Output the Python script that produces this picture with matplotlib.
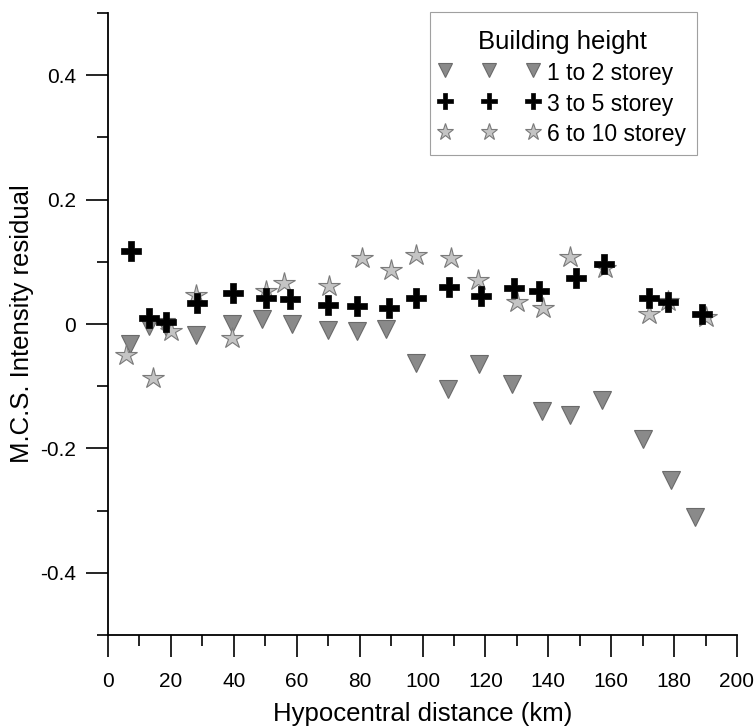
import numpy as np
import matplotlib
matplotlib.use("Agg")
import matplotlib.pyplot as plt
from matplotlib.path import Path
from matplotlib.patches import Rectangle
from matplotlib.transforms import IdentityTransform
from matplotlib.ticker import MultipleLocator, FixedLocator

plt.rcParams['font.family'] = ['Liberation Sans', 'DejaVu Sans']

# ---- data ----
dist_low = [7.0, 13.0, 18.5, 28.0, 39.5, 49.0, 58.6, 70.0, 79.3, 88.5, 97.8, 108.0,
            118.0, 128.3, 138.0, 147.0, 157.0, 170.0, 179.0, 186.6]
res_low = [-0.032, -0.003, -0.005, -0.018, 0.0, 0.008, 0.0, -0.010, -0.011, -0.008,
           -0.063, -0.105, -0.065, -0.096, -0.140, -0.146, -0.122, -0.185, -0.250, -0.310]

dist_mid = [7.3, 13.0, 18.5, 28.3, 39.8, 50.3, 58.0, 70.0, 79.3, 89.2, 97.8, 108.3,
            118.5, 129.0, 137.0, 148.7, 157.6, 172.0, 178.0, 188.8]
res_mid = [0.117, 0.010, 0.003, 0.034, 0.050, 0.042, 0.040, 0.030, 0.029, 0.026,
           0.042, 0.059, 0.045, 0.058, 0.053, 0.074, 0.096, 0.042, 0.036, 0.016]

dist_high = [5.7, 14.3, 20.0, 28.0, 39.5, 50.3, 56.0, 70.4, 80.9, 90.0, 98.0, 109.2,
             117.5, 130.0, 138.2, 146.8, 158.0, 172.0, 178.0, 190.0]
res_high = [-0.050, -0.087, -0.011, 0.047, -0.022, 0.053, 0.066, 0.061, 0.106, 0.087,
            0.111, 0.106, 0.071, 0.036, 0.026, 0.108, 0.090, 0.016, 0.037, 0.011]

labels = ["1 to 2 storey", "3 to 5 storey", "6 to 10 storey"]
ytick_vals = [-0.4, -0.2, 0, 0.2, 0.4]
ytick_labels = ['-0.4', '-0.2', '0', '0.2', '0.4']

# thick plus marker
t = 0.14
plus_verts = [(-t, -0.5), (t, -0.5), (t, -t), (0.5, -t), (0.5, t), (t, t), (t, 0.5),
              (-t, 0.5), (-t, t), (-0.5, t), (-0.5, -t), (-t, -t), (-t, -0.5)]
plus_marker = Path(plus_verts, closed=True)

W, H = 756, 728
fig = plt.figure(figsize=(W/100, H/100), dpi=100)
ax = fig.add_axes([108/W, 1-635/H, (737-108)/W, (635-13)/H])

ax.plot(dist_low, res_low, linestyle='none', marker='v', markersize=12.5,
        markerfacecolor='#8a8a8a', markeredgecolor='#6a6a6a', markeredgewidth=0.8,
        label=labels[0], zorder=3)
ax.plot(dist_mid, res_mid, linestyle='none', marker=plus_marker, markersize=14,
        markerfacecolor='black', markeredgecolor='black', markeredgewidth=0.5,
        label=labels[1], zorder=4)
ax.plot(dist_high, res_high, linestyle='none', marker='*', markersize=16,
        markerfacecolor='#c4c4c4', markeredgecolor='#7a7a7a', markeredgewidth=0.8,
        label=labels[2], zorder=3)

ax.set_xlim(0, 200)
ax.set_ylim(-0.5, 0.5)
ax.xaxis.set_major_locator(MultipleLocator(20))
ax.xaxis.set_minor_locator(MultipleLocator(10))
ax.yaxis.set_major_locator(FixedLocator(ytick_vals))
ax.yaxis.set_minor_locator(FixedLocator([-0.5, -0.3, -0.1, 0.1, 0.3, 0.5]))
ax.set_yticklabels(ytick_labels)

for s in ['top', 'right']:
    ax.spines[s].set_visible(False)
for s in ['left', 'bottom']:
    ax.spines[s].set_linewidth(1.3)

ax.tick_params(which='major', direction='out', length=15.5, width=1.2, labelsize=15)
ax.tick_params(which='minor', direction='out', length=8, width=1.2)
ax.tick_params(axis='x', which='major', pad=11)
ax.tick_params(axis='y', which='major', pad=7.5)

ax.set_xlabel("Hypocentral distance (km)", fontsize=18.5, labelpad=8)
ax.set_ylabel("M.C.S. Intensity residual", fontsize=18.5, labelpad=4)

# legend contents (frame drawn separately)
anchor = ((686-108)/(737-108), (635-30)/(635-13))
leg = ax.legend(title="Building height", loc='upper right',
                bbox_to_anchor=anchor, borderaxespad=0,
                numpoints=3, handlelength=4.44, handletextpad=0.31, markerscale=0.8,
                fontsize=16.5, title_fontsize=18.5, labelspacing=0.29,
                handleheight=1.15, frameon=False, borderpad=0)
leg.set_zorder(6)

fig.canvas.draw()
bb = leg.get_window_extent()
pad_l, pad_r, pad_t, pad_b = 8, 11, 18, 9
frame = Rectangle((bb.x0 - pad_l, bb.y0 - pad_b), bb.width + pad_l + pad_r,
                  bb.height + pad_t + pad_b, transform=IdentityTransform(),
                  facecolor='white', edgecolor='#a0a0a0', linewidth=0.8,
                  zorder=5, clip_on=False)
ax.add_artist(frame)

fig.savefig("out.png", dpi=100)
